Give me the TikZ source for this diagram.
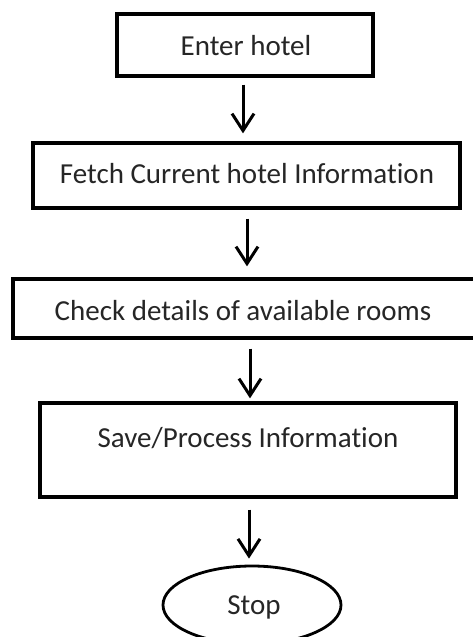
\documentclass[tikz,border=0pt]{standalone}
\usepackage{fontspec}
\setmainfont[Ligatures={NoCommon}]{Carlito}
\usetikzlibrary{arrows.meta,shapes.geometric}
\begin{document}
\begin{tikzpicture}[x=1pt,y=-1pt,
  box/.style={draw=black,line width=3.3pt,rectangle,inner sep=0pt},
  lbl/.style={text=black!85,font=\fontsize{29}{34}\selectfont,inner sep=0pt},
  arr/.style={draw=black,line width=3pt,-{Straight Barb[length=17pt,width=22pt,line width=3pt]}}]
\useasboundingbox (0,0) rectangle (473,637);
\fill[white] (0,0) rectangle (473,637);
\node[box,minimum width=256pt,minimum height=62pt] (b1) at (245,45) {};
\node[lbl] (t1) at (246,46) {Enter hotel};
\node[box,minimum width=427pt,minimum height=65pt] (b2) at (246.5,175.5) {};
\node[lbl] (t2) at (247,174) {Fetch Current hotel Information};
\node[box,minimum width=463pt,minimum height=59pt] (b3) at (244.5,308.5) {};
\node[lbl] (t3) at (243,311) {Check details of available rooms};
\node[box,minimum width=416pt,minimum height=94pt] (b4) at (248,450) {};
\node[lbl] (t4) at (248,438) {Save/Process Information};
\node[draw=black,line width=2.8pt,ellipse,minimum width=178pt,minimum height=78pt,inner sep=0pt] (stop) at (252,605) {};
\node[lbl] (t5) at (254,607) {Stop};
\draw[arr] ([xshift=-2pt,yshift=-7pt]b1.south) -- ([xshift=-3.5pt,yshift=8pt]b2.north);
\draw[arr] ([xshift=0.5pt,yshift=-9pt]b2.south) -- ([xshift=2.5pt,yshift=11pt]b3.north);
\draw[arr] ([xshift=5.5pt,yshift=-9pt]b3.south) -- ([xshift=2pt,yshift=3pt]b4.north);
\draw[arr] ([xshift=1pt,yshift=-11pt]b4.south) -- ([xshift=-3pt,yshift=6pt]stop.north);
\end{tikzpicture}
\end{document}
